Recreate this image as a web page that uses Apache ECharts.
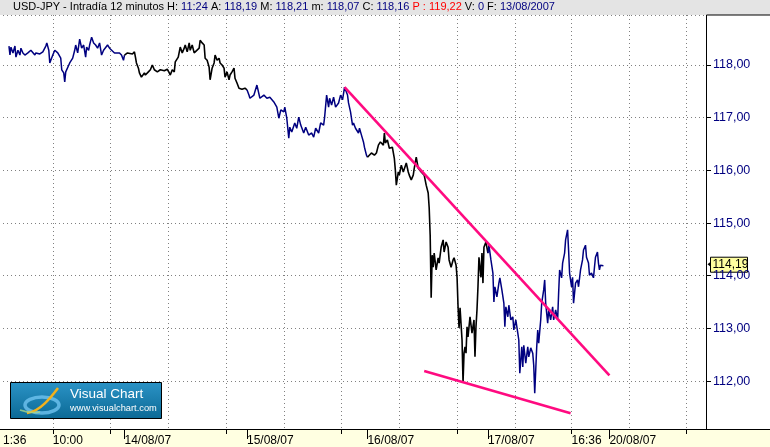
<!DOCTYPE html>
<html>
<head>
<meta charset="utf-8">
<script src="https://cdn.jsdelivr.net/npm/echarts@6/dist/echarts.min.js"></script>
<style>
html,body{margin:0;padding:0;background:#fff;}
#c{width:770px;height:447px;}
</style>
</head>
<body>
<div id="c"></div>
<script>
// ---- data (x = 12-minute bar index, y = price) ----
const barCount = 707;
const tickLabels = [[0,'1:36'],[50,'10:00'],[122,'14/08/07'],[245,'15/08/07'],[366,'16/08/07'],[487,'17/08/07'],[571,'16:36'],[609,'20/08/07']];
const gridTicks = [50,108,166,224,282,340,398,456,514,571,629,686];
const shortTicks = [50,108,224,340,456,571,686];
const dayTicks = [122,245,366,487,609];
const yTicks = [112,113,114,115,116,117,118];

const day13 = [[6,118.36],[7,118.19],[8,118.34],[10,118.23],[12,118.36],[13,118.15],[15,118.28],[17,118.19],[18,118.32],[20,118.23],[22,118.19],[25,118.23],[28,118.28],[32,118.19],[33,118.23],[37,118.21],[40,118.25],[43,118.36],[44,118.42],[46,118.28],[47,118.04],[48,118.09],[50,118.19],[52,118.28],[55,118.23],[57,118.25],[58,118.13],[59,117.91],[61,117.85],[62,117.68],[63,117.87],[65,117.85],[67,118.04],[68,118.06],[70,118.13],[72,118.28],[73,118.38],[75,118.23],[77,118.49],[79,118.32],[81,118.38],[83,118.15],[84,118.34],[86,118.28],[87,118.38],[89,118.53],[91,118.42],[93,118.38],[95,118.32],[97,118.42],[99,118.19],[101,118.28],[103,118.25],[105,118.38],[107,118.32],[109,118.34],[112,118.23],[113,118.25],[117,118.23],[119,118.19],[121,118.09],[122,118.19]];
const day14 = [[122,118.19],[125,118.23],[127,118.25],[130,118.21],[132,118.25],[133,118.15],[134,118.04],[136,117.94],[137,117.85],[139,117.77],[142,117.85],[143,117.81],[146,117.87],[148,117.91],[150,118.00],[152,117.91],[155,117.87],[158,117.91],[162,117.89],[165,117.92],[167,117.85],[168,117.81],[170,117.91],[172,117.87],[173,118.06],[176,118.15],[178,118.34],[180,118.23],[182,118.32],[183,118.38],[185,118.25],[187,118.42],[188,118.28],[190,118.38],[192,118.23],[194,118.25],[197,118.32],[198,118.47],[200,118.42],[202,118.38],[203,118.13],[205,118.09],[207,117.96],[208,117.72],[210,117.94],[212,118.04],[213,118.19],[215,118.09],[217,118.13],[218,118.04],[220,118.00],[222,117.94],[223,117.77],[225,117.87],[227,117.72],[228,117.81],[230,117.87],[232,117.94],[233,117.75],[235,117.66],[237,117.56],[240,117.54],[243,117.56],[245,117.53]];
const day15 = [[245,117.53],[247,117.43],[248,117.37],[252,117.43],[255,117.62],[258,117.37],[262,117.43],[265,117.37],[268,117.39],[272,117.30],[275,117.20],[277,116.99],[279,117.15],[282,117.11],[283,117.20],[285,116.99],[287,116.61],[288,116.82],[290,116.73],[293,116.90],[295,116.80],[297,117.01],[299,116.86],[302,116.71],[304,116.82],[307,116.67],[310,116.71],[312,116.63],[314,116.80],[317,116.71],[319,116.90],[322,116.86],[323,117.01],[325,117.43],[327,117.20],[328,117.37],[330,117.24],[332,117.39],[334,117.20],[337,117.28],[339,117.43],[341,117.34],[343,117.58],[344,117.56],[346,117.43],[347,117.28],[349,117.11],[351,116.86],[352,116.90],[354,116.80],[357,116.71],[358,116.80],[360,116.67],[362,116.54],[363,116.44],[365,116.29],[366,116.25]];
const day16 = [[366,116.25],[370,116.33],[373,116.29],[375,116.33],[377,116.48],[379,116.54],[382,116.48],[383,116.71],[384,116.52],[386,116.58],[388,116.42],[391,116.44],[393,116.23],[394,116.01],[395,115.72],[397,115.97],[398,115.91],[400,116.10],[402,115.97],[405,116.14],[407,115.97],[408,115.91],[410,115.82],[412,115.91],[413,116.04],[415,116.25],[417,116.04],[420,115.97],[423,115.91],[425,115.72],[427,115.57],[428,115.29],[429,114.77],[430,113.58],[431,114.39],[432,114.16],[433,114.43],[435,114.11],[437,114.34],[438,114.24],[440,114.54],[442,114.68],[443,114.45],[445,114.64],[447,114.54],[448,114.30],[450,114.16],[452,114.30],[453,114.34],[455,114.20],[456,113.97],[457,113.41],[458,113.01],[459,113.39],[461,112.78],[462,111.98],[463,112.53],[464,112.65],[465,112.53],[466,113.03],[467,112.84],[469,113.22],[471,112.91],[473,113.16],[474,112.46],[475,113.03],[476,113.35],[477,113.79],[478,114.35],[480,113.97],[481,114.43],[482,113.86],[483,114.54],[485,114.64],[487,114.43]];
const day17 = [[487,114.43],[488,114.58],[490,114.30],[492,114.05],[493,113.50],[494,113.79],[496,113.60],[498,113.86],[499,113.96],[501,113.73],[503,113.48],[504,113.03],[505,113.41],[507,113.22],[508,113.44],[510,113.16],[512,113.22],[513,112.97],[515,113.16],[517,112.91],[518,112.78],[519,112.15],[521,112.65],[522,112.27],[523,112.68],[525,112.34],[527,112.65],[528,112.46],[530,112.63],[532,112.53],[533,112.30],[534,111.77],[535,112.21],[536,112.65],[537,112.97],[538,112.72],[540,113.16],[541,113.48],[543,113.73],[544,113.92],[545,113.48],[547,113.10],[548,113.35],[550,113.16],[552,113.41],[553,113.16],[555,113.35],[557,113.16],[558,113.67],[559,114.11],[561,113.96],[562,114.24],[564,114.43],[565,114.68],[567,114.87],[568,114.49],[569,114.05],[571,113.79],[572,113.97],[573,113.48],[575,113.86],[577,113.92],[578,113.79],[580,114.11],[582,114.30],[583,114.49],[585,114.58],[586,114.35],[588,114.24],[589,114.01],[591,114.05],[593,113.96],[594,114.16],[595,114.35],[597,114.45],[598,114.24],[599,114.11],[600,114.20],[603,114.19]];
const upperTrend = [[343,117.58],[609,112.11]];
const lowerTrend = [[423,112.19],[570,111.39]];
const lastPrice = 114.19;
const header = [['k','USD-JPY - Intradía 12 minutos H: '],['v','11:24'],['k',' A: '],['v','118,19'],['k',' M: '],['v','118,21'],['k',' m: '],['v','118,07'],['k',' C: '],['v','118,16'],['r',' P : 119,22'],['k',' V: '],['v','0'],['k',' F: '],['v','13/08/2007']];

// ---- chart ----
const FONT = 'Liberation Sans, Arial, sans-serif';
const categories = Array.from({length: barCount}, (_, i) => String(i));
const labelMap = {}; tickLabels.forEach(t => labelMap[t[0]] = t[1]);
const gridSet = new Set(gridTicks), shortSet = new Set(shortTicks), daySet = new Set(dayTicks);
const fmt = v => v.toFixed(2).replace('.', ',');

const chart = echarts.init(document.getElementById('c'), null, {renderer: 'canvas'});
function lineSeries(data, color, width, z) {
  return {type: 'line', data: data, showSymbol: false, symbol: 'none', z: z || 3,
    lineStyle: {color: color, width: width}, itemStyle: {color: color}, animation: false, silent: true};
}
const headerText = header.map(h => '{' + h[0] + '|' + h[1] + '}').join('');
const HF = 11;

chart.setOption({
  animation: false,
  backgroundColor: '#ffffff',
  title: {
    text: headerText, left: 13, top: 1.5, padding: 0, z: 20,
    textStyle: {fontFamily: FONT, fontSize: HF, fontWeight: 'normal',
      rich: {k: {color: '#000000', fontFamily: FONT, fontSize: HF},
             v: {color: '#000080', fontFamily: FONT, fontSize: HF},
             r: {color: '#ff0000', fontFamily: FONT, fontSize: HF}}}
  },
  grid: {left: 0, right: 64, top: 15, bottom: 18, containLabel: false},
  xAxis: [{
    type: 'category', data: categories, boundaryGap: false,
    axisLine: {show: false},
    axisTick: {show: true, length: 5, interval: i => shortSet.has(i), lineStyle: {color: '#000'}},
    axisLabel: {show: true, interval: i => (i in labelMap), formatter: (v, i) => labelMap[i] || '',
      align: 'left', margin: 6, color: '#000', fontFamily: FONT, fontSize: 12},
    splitLine: {show: true, interval: i => gridSet.has(i), lineStyle: {color: '#808080', type: [1, 3], width: 1}}
  }, {
    type: 'category', data: categories, boundaryGap: false, position: 'bottom',
    axisLine: {show: false},
    axisTick: {show: true, length: 10, interval: i => daySet.has(i), lineStyle: {color: '#000'}},
    axisLabel: {show: false}, splitLine: {show: false}
  }],
  yAxis: {
    type: 'value', position: 'right', min: 111.09, max: 118.95, splitNumber: 8,
    axisLine: {show: true, lineStyle: {color: '#000', width: 1}},
    axisTick: {show: true, length: 5, lineStyle: {color: '#000'}},
    axisLabel: {formatter: fmt, color: '#000080', fontFamily: FONT, fontSize: 12.5, margin: 7,
      showMinLabel: false, showMaxLabel: false},
    splitLine: {show: true, lineStyle: {color: '#808080', type: [1, 3], width: 1}}
  },
  series: [
    lineSeries(day13, '#000080', 1.5),
    lineSeries(day14, '#000000', 1.6),
    lineSeries(day15, '#000080', 1.5),
    lineSeries(day16, '#000000', 1.6),
    lineSeries(day17, '#000080', 1.5),
    lineSeries(upperTrend, '#ff0a80', 2.6, 5),
    lineSeries(lowerTrend, '#ff0a80', 2.6, 5)
  ]
});

// decorations and last-price marker placed through the chart's scales
const yLast = chart.convertToPixel({yAxisIndex: 0}, lastPrice);
const xAxisEnd = chart.convertToPixel({xAxisIndex: 0}, barCount - 1);
const yBottom = chart.convertToPixel({yAxisIndex: 0}, 111.09);
const yTop = chart.convertToPixel({yAxisIndex: 0}, 118.95);

chart.setOption({
  graphic: [
    {type: 'rect', z: -10, silent: true, shape: {x: 0, y: yBottom, width: 770, height: 447 - yBottom}, style: {fill: '#ffffe1'}},
    {type: 'rect', z: 10, silent: true, shape: {x: 0, y: 0, width: 770, height: yTop}, style: {fill: '#e4e4e4'}},
    {type: 'line', z: 10, silent: true, shape: {x1: 0, y1: yBottom + 0.5, x2: 770, y2: yBottom + 0.5}, style: {stroke: '#000', lineWidth: 1}},
    {type: 'line', z: 10, silent: true, shape: {x1: xAxisEnd + 0.5, y1: yTop, x2: 770, y2: yTop}, style: {stroke: '#000', lineWidth: 1}},
    // window buttons
    {type: 'group', z: 12, silent: true, children: [
      {type: 'rect', shape: {x: 731, y: 2, width: 12, height: 11}, style: {fill: '#d8d8d8', stroke: '#808080', lineWidth: 1}},
      {type: 'rect', shape: {x: 744, y: 2, width: 12, height: 11}, style: {fill: '#d8d8d8', stroke: '#808080', lineWidth: 1}},
      {type: 'rect', shape: {x: 757, y: 2, width: 12, height: 11}, style: {fill: '#d8d8d8', stroke: '#808080', lineWidth: 1}},
      {type: 'line', shape: {x1: 734, y1: 10.5, x2: 740, y2: 10.5}, style: {stroke: '#000', lineWidth: 2}},
      {type: 'rect', shape: {x: 746.5, y: 4.5, width: 7, height: 6}, style: {fill: 'none', stroke: '#000', lineWidth: 1.5}},
      {type: 'line', shape: {x1: 760, y1: 4.5, x2: 766, y2: 10.5}, style: {stroke: '#000', lineWidth: 1.5}},
      {type: 'line', shape: {x1: 766, y1: 4.5, x2: 760, y2: 10.5}, style: {stroke: '#000', lineWidth: 1.5}}
    ]},
    // last price marker
    {type: 'group', z: 15, silent: true, children: [
      {type: 'polygon', shape: {points: [[707.5, yLast - 1.5], [710, yLast - 3.5], [710, yLast + 0.5]]}, style: {fill: '#000'}},
      {type: 'rect', shape: {x: 710.5, y: yLast - 8.5, width: 37, height: 15}, style: {fill: '#ffffa0', stroke: '#000', lineWidth: 1}},
      {type: 'text', style: {x: 712.5, y: yLast - 1, text: fmt(lastPrice), fill: '#000', font: '12px ' + FONT, textVerticalAlign: 'middle'}}
    ]},
    // Visual Chart logo
    {type: 'group', z: 15, silent: true, children: [
      {type: 'rect', shape: {x: 10.5, y: 382.5, width: 151, height: 36},
        style: {stroke: '#000', lineWidth: 1, fill: new echarts.graphic.LinearGradient(0, 0, 0, 1, [{offset: 0, color: '#2b93c6'}, {offset: 1, color: '#0b6995'}])}},
      {type: 'ellipse', shape: {cx: 42, cy: 405, rx: 17, ry: 8}, style: {fill: 'none', stroke: '#6fc3f0', lineWidth: 3.5, opacity: 0.8}},
      {type: 'bezierCurve', shape: {x1: 27, y1: 413, cpx1: 40, cpy1: 412, x2: 58, y2: 388, cpx2: 52, cpy2: 396}, style: {stroke: '#f2b11c', lineWidth: 2.5, fill: 'none'}},
      {type: 'bezierCurve', shape: {x1: 20, y1: 410, cpx1: 28, cpy1: 413, x2: 40, y2: 412, cpx2: 34, cpy2: 413}, style: {stroke: '#a8d68a', lineWidth: 1.5, fill: 'none', opacity: 0.8}},
      {type: 'text', style: {x: 70, y: 394, text: 'Visual Chart', fill: '#ffffff', font: '13.5px ' + FONT, textVerticalAlign: 'middle'}},
      {type: 'text', style: {x: 70, y: 408, text: 'www.visualchart.com', fill: '#ffffff', font: '9.3px ' + FONT, textVerticalAlign: 'middle'}}
    ]}
  ]
});
</script>
</body>
</html>
